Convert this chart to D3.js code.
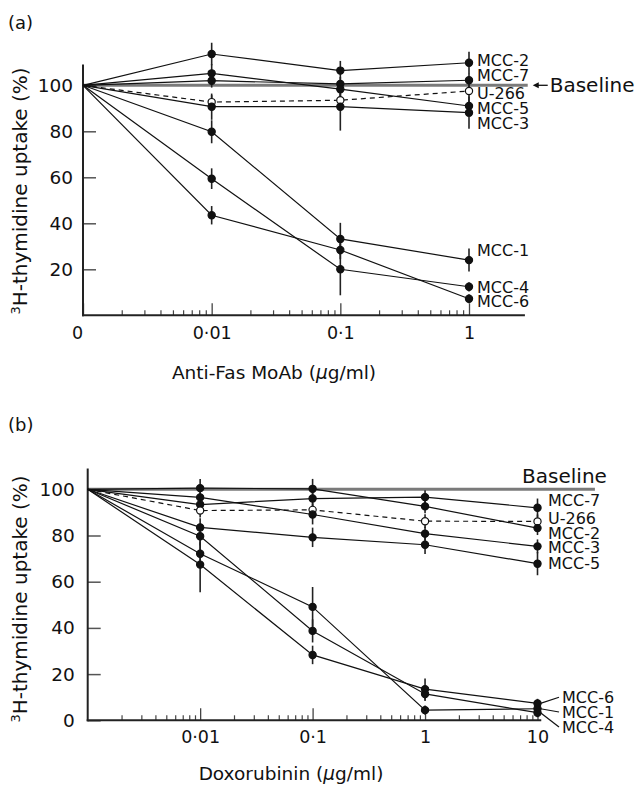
<!DOCTYPE html>
<html><head><meta charset="utf-8">
<script src="https://cdn.jsdelivr.net/npm/d3@7"></script>
<style>
body{margin:0;background:#fff}
svg{display:block}
text{font-family:"DejaVu Sans",sans-serif;fill:#111}
</style>
</head><body>
<svg id="c" width="639" height="785"></svg>
<script>
// ---------- Panel (a): Anti-Fas MoAb ----------
const concA = [0, 0.01, 0.1, 1];
const xTicksA = [0.001, 0.01, 0.1, 1];
const xTickLabelsA = ["0", "0\u00b701", "0\u00b71", "1"];
const namesA = ["MCC-2", "MCC-7", "U-266", "MCC-5", "MCC-3", "MCC-1", "MCC-4", "MCC-6"];
const valuesA = [
  [100, 113.6, 106.4, 109.8],
  [100, 102.0, 100.6, 102.2],
  [100, 92.7, 93.5, 97.5],
  [100, 105.2, 98.3, 91.0],
  [100, 90.7, 90.7, 88.1],
  [100, 79.8, 33.2, 24.0],
  [100, 59.4, 20.0, 12.4],
  [100, 43.5, 28.4, 7.2]
];
const errorsA = [
  [0, 4.9, 4.2, 4.8],
  [0, 3.0, 3.0, 3.0],
  [0, 3.0, 3.0, 3.0],
  [0, 4.0, 3.0, 3.5],
  [0, 5.7, 10.4, 7.0],
  [0, 5.0, 7.0, 5.0],
  [0, 4.5, 11.3, 2.0],
  [0, 4.0, 4.0, 2.0]
];
const labelYA = [111.0, 104.5, 96.5, 90.0, 83.5, 28.1, 12.4, 5.9];
const yTicksA = [20, 40, 60, 80, 100];

// ---------- Panel (b): Doxorubinin ----------
const concB = [0, 0.01, 0.1, 1, 10];
const xTicksB = [0.01, 0.1, 1, 10];
const xTickLabelsB = ["0\u00b701", "0\u00b71", "1", "10"];
const namesB = ["MCC-7", "U-266", "MCC-2", "MCC-3", "MCC-5", "MCC-6", "MCC-1", "MCC-4"];
const valuesB = [
  [100, 93.4, 96.0, 96.6, 92.0],
  [100, 90.8, 91.1, 86.2, 86.1],
  [100, 100.5, 100.2, 92.6, 83.2],
  [100, 96.5, 89.1, 80.8, 75.3],
  [100, 83.5, 79.2, 76.0, 67.8],
  [100, 67.4, 28.3, 13.5, 7.3],
  [100, 72.1, 49.1, 4.4, 5.0],
  [100, 79.7, 38.7, 11.4, 3.3]
];
const errorsB = [
  [0, 3.0, 3.0, 3.0, 4.0],
  [0, 3.0, 3.0, 3.0, 3.0],
  [0, 4.0, 4.3, 3.0, 3.0],
  [0, 3.0, 4.3, 3.0, 3.0],
  [0, 4.0, 4.2, 4.0, 5.0],
  [0, 12.0, 4.0, 4.6, 2.0],
  [0, 5.0, 8.6, 2.0, 2.0],
  [0, 4.0, 5.0, 3.0, 2.0]
];
const labelYB = [95.2, 87.3, 81.0, 75.0, 67.8, 10.0, 3.6, -2.9];
const leaderB = [false, false, false, false, false, true, true, true];
const yTicksB = [0, 20, 40, 60, 80, 100];

const svg = d3.select("#c");

function drawPanel(o) {
  const x = d3.scaleLog().domain([0.001, o.xMaxData]).range(o.xRange);
  const xv = c => (c === 0 ? 0.001 : c);
  const y = d3.scaleLinear().domain([0, 100]).range(o.yRange);
  const g = svg.append("g");
  const x0 = x(0.001);

  // panel letter
  g.append("text").attr("x", 8).attr("y", o.letterY).attr("font-size", 18).text(o.letter);

  // baseline
  g.append("line")
    .attr("x1", x0).attr("x2", x(o.baseEnd))
    .attr("y1", y(100)).attr("y2", y(100))
    .attr("stroke", "#7a7a7a").attr("stroke-width", 3);

  // y ticks (inward)
  const ya = d3.axisLeft(y).tickValues(o.yTicks).tickSize(-13).tickPadding(o.yPad).tickFormat(d3.format("d"));
  const yg = g.append("g").attr("transform", `translate(${x0},0)`).call(ya);
  yg.select(".domain").remove();
  yg.selectAll("line").attr("stroke", "#555").attr("stroke-width", 1.5);
  yg.selectAll("text").attr("font-size", 18.5).attr("font-family", "DejaVu Sans").attr("fill", "#111");

  // x major ticks
  const xa = d3.axisBottom(x).tickValues(o.xTicks).tickSize(-12).tickPadding(o.xPad)
    .tickFormat((d, i) => o.xTickLabels[i]);
  const xg = g.append("g").attr("transform", `translate(0,${y(0)})`).call(xa);
  xg.select(".domain").remove();
  xg.selectAll("line").attr("stroke", "#444").attr("stroke-width", 1.3);
  xg.selectAll("text").attr("font-size", 17.5).attr("font-family", "DejaVu Sans").attr("fill", "#111")
    .attr("dx", d => (d === 0.001 ? -6 : 0));

  // x minor ticks
  const minor = [];
  for (let dec = 0.001; dec < o.lastMajor * 0.99; dec *= 10) {
    for (let k = 2; k <= 9; k++) minor.push(+(k * dec).toPrecision(3));
  }
  const xm = d3.axisBottom(x).tickValues(minor).tickSize(-5).tickFormat("");
  const xmg = g.append("g").attr("transform", `translate(0,${y(0)})`).call(xm);
  xmg.select(".domain").remove();
  xmg.selectAll("line").attr("stroke", "#444").attr("stroke-width", 1.2);

  // axis lines
  g.append("line").attr("x1", x0).attr("x2", x0).attr("y1", y(0) + 1).attr("y2", y(o.yTop))
    .attr("stroke", "#222").attr("stroke-width", 2);
  g.append("line").attr("x1", x0 - 1).attr("x2", x(o.xAxisEnd)).attr("y1", y(0)).attr("y2", y(0))
    .attr("stroke", "#222").attr("stroke-width", 2);

  // axis titles
  g.append("text").attr("x", o.xTitleX).attr("y", o.xTitleY).attr("text-anchor", "middle")
    .attr("font-size", 18.5)
    .call(t => {
      t.append("tspan").text(o.xTitle + " (");
      t.append("tspan").attr("font-style", "italic").text("\u03bc");
      t.append("tspan").text("g/ml)");
    });
  const yt = g.append("text")
    .attr("transform", `translate(${o.yTitleX},${o.yTitleY}) rotate(-90)`)
    .attr("text-anchor", "middle").attr("font-size", 20);
  yt.append("tspan").attr("font-size", 13).attr("dy", -7).text("3");
  yt.append("tspan").attr("dy", 7).text("H-thymidine uptake (%)");

  // error bars
  o.values.forEach((vals, si) => {
    vals.forEach((v, i) => {
      const e = o.errors[si][i];
      if (e > 0) {
        g.append("line")
          .attr("x1", x(xv(o.conc[i]))).attr("x2", x(xv(o.conc[i])))
          .attr("y1", y(v - e)).attr("y2", y(v + e))
          .attr("stroke", "#222").attr("stroke-width", 1.6);
      }
    });
  });

  // lines
  const line = d3.line().x((d, i) => x(xv(o.conc[i]))).y(d => y(d));
  o.values.forEach((vals, si) => {
    const open = o.names[si] === "U-266";
    g.append("path").attr("d", line(vals)).attr("fill", "none")
      .attr("stroke", "#111").attr("stroke-width", 1.2)
      .attr("stroke-dasharray", open ? "5,4" : null);
  });

  // points
  o.values.forEach((vals, si) => {
    const open = o.names[si] === "U-266";
    vals.forEach((v, i) => {
      if (i === 0) return;
      g.append("circle").attr("cx", x(xv(o.conc[i]))).attr("cy", y(v)).attr("r", 3.6)
        .attr("fill", open ? "#fff" : "#111").attr("stroke", "#111").attr("stroke-width", 1.2);
    });
  });

  // series labels
  const lastI = o.conc.length - 1;
  const xl = x(o.conc[lastI]);
  o.names.forEach((n, si) => {
    const lead = o.leader ? o.leader[si] : false;
    const lx = xl + (lead ? o.leadDx : o.labelDx);
    const ly = y(o.labelY[si]);
    g.append("text").attr("x", lx).attr("y", ly).attr("dy", "0.36em")
      .attr("font-size", 16).text(n);
    if (lead) {
      const py = y(o.values[si][lastI]);
      g.append("line").attr("x1", xl + 3).attr("y1", py).attr("x2", lx - 3).attr("y2", ly)
        .attr("stroke", "#111").attr("stroke-width", 1.2);
    }
  });

  // baseline label
  if (o.baselineArrow) {
    const bx = x(o.baseEnd);
    const by = y(100);
    g.append("line").attr("x1", bx + 9).attr("x2", bx + 20).attr("y1", by).attr("y2", by)
      .attr("stroke", "#111").attr("stroke-width", 1.3);
    g.append("path").attr("d", `M${bx + 5},${by} L${bx + 11},${by - 3} L${bx + 11},${by + 3} Z`).attr("fill", "#111");
    g.append("text").attr("x", bx + 22).attr("y", by).attr("dy", "0.33em").attr("font-size", 20).text("Baseline");
  } else {
    g.append("text").attr("x", x(o.baseEnd) + 12).attr("y", y(100) - 6).attr("text-anchor", "end")
      .attr("font-size", 20).text("Baseline");
  }
}

drawPanel({
  letter: "(a)", letterY: 29,
  conc: concA, values: valuesA, errors: errorsA, names: namesA, labelY: labelYA,
  xMaxData: 1, xRange: [83, 469], yRange: [315.3, 85.3],
  xTicks: xTicksA, xTickLabels: xTickLabelsA, lastMajor: 1,
  yTicks: yTicksA, yPad: 10, xPad: 11, yTop: 109, xAxisEnd: 2.72, baseEnd: 2.86,
  labelDx: 8, baselineArrow: true,
  xTitle: "Anti-Fas MoAb", xTitleX: 274, xTitleY: 379,
  yTitleX: 27, yTitleY: 191
});

drawPanel({
  letter: "(b)", letterY: 431,
  conc: concB, values: valuesB, errors: errorsB, names: namesB, labelY: labelYB,
  leader: leaderB, leadDx: 24.5,
  xMaxData: 10, xRange: [87.7, 537.5], yRange: [720.3, 489.3],
  xTicks: xTicksB, xTickLabels: xTickLabelsB, lastMajor: 10,
  yTicks: yTicksB, yPad: 13, xPad: 10, yTop: 109, xAxisEnd: 10.8, baseEnd: 32.4,
  labelDx: 10.5, baselineArrow: false,
  xTitle: "Doxorubinin", xTitleX: 291, xTitleY: 780,
  yTitleX: 27, yTitleY: 599
});
</script>
</body></html>
